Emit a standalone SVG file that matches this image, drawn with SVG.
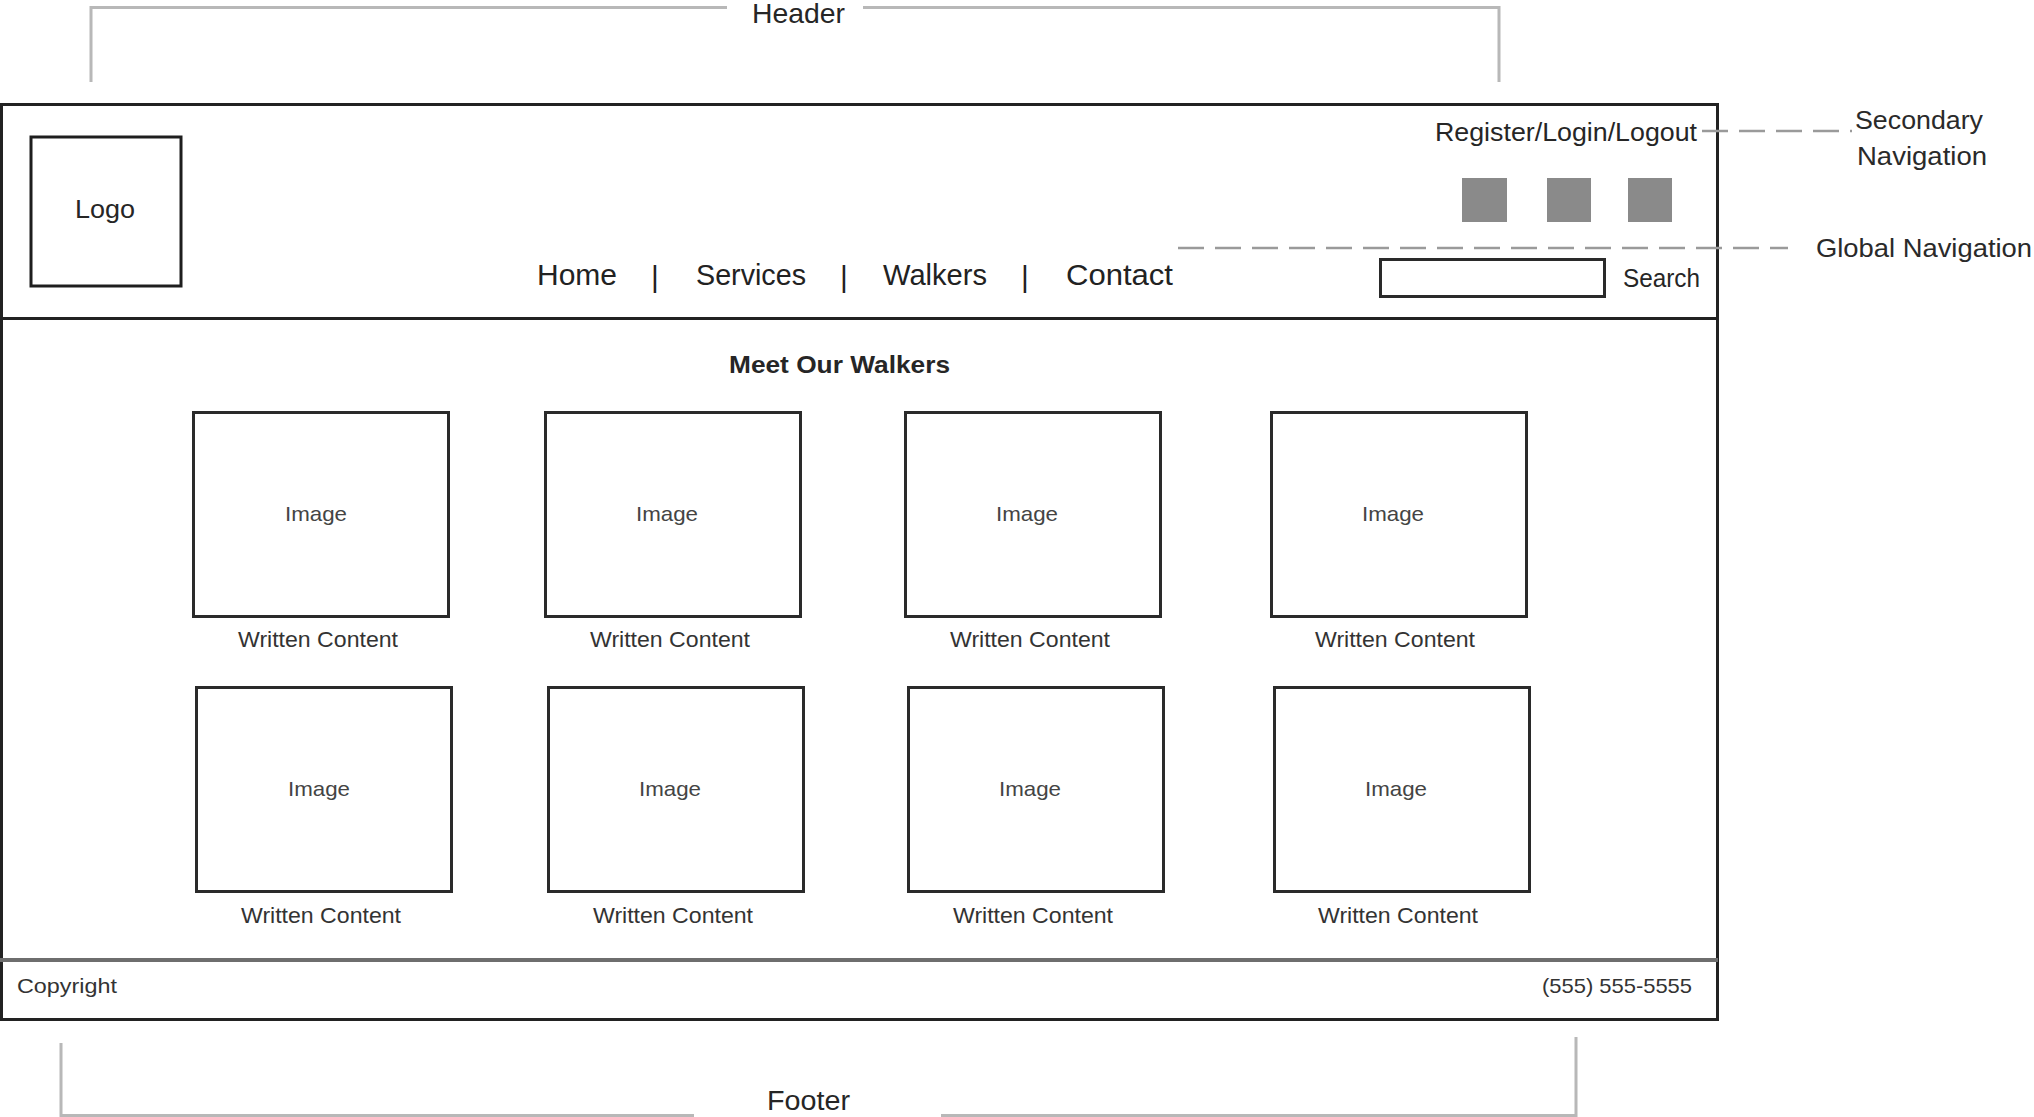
<svg xmlns="http://www.w3.org/2000/svg" width="2034" height="1117" viewBox="0 0 2034 1117">
<style>
text{font-family:"Liberation Sans",Arial,sans-serif;fill:#262626}
.br{fill:none;stroke:#b8b8b8;stroke-width:3}
.dash{fill:none;stroke:#9a9a9a;stroke-width:2.5;stroke-dasharray:26 11}
.box{fill:#fff;stroke:#2a2a2a;stroke-width:3}
.img{font-size:21px;fill:#444;text-anchor:middle}
.wc{font-size:22px;fill:#333;text-anchor:middle}
.nav{font-size:30px;fill:#222}
.lbl{font-size:26px;fill:#2a2a2a}
.sq{fill:#8a8a8a}
</style>
<rect width="2034" height="1117" fill="#fff"/>

<g id="header-annotation">
<path class="br" d="M91 82 V7.5 H727 M863 7.5 H1499 V82"/>
<text x="752" y="23" style="font-size:28px" textLength="93" lengthAdjust="spacingAndGlyphs">Header</text>
</g>

<g id="page-frame">
<rect x="1.5" y="104.5" width="1716" height="915" fill="#fff" stroke="#222" stroke-width="3"/>
<line x1="0" y1="318.5" x2="1718" y2="318.5" stroke="#222" stroke-width="3"/>
<line x1="0" y1="960" x2="1718" y2="960" stroke="#6e6e6e" stroke-width="4"/>
</g>

<g id="logo">
<rect x="31" y="137" width="150" height="149" fill="none" stroke="#1e1e1e" stroke-width="3"/>
<text x="105" y="218" style="font-size:25px" text-anchor="middle" textLength="60" lengthAdjust="spacingAndGlyphs">Logo</text>
</g>

<g id="global-nav">
<text class="nav" x="537" y="285" textLength="80" lengthAdjust="spacingAndGlyphs">Home</text>
<text class="nav" x="651" y="287">|</text>
<text class="nav" x="696" y="285" textLength="110" lengthAdjust="spacingAndGlyphs">Services</text>
<text class="nav" x="840" y="287">|</text>
<text class="nav" x="883" y="285" textLength="104" lengthAdjust="spacingAndGlyphs">Walkers</text>
<text class="nav" x="1021" y="287">|</text>
<text class="nav" x="1066" y="285" textLength="107" lengthAdjust="spacingAndGlyphs">Contact</text>
</g>

<g id="secondary-nav">
<text x="1435" y="141" style="font-size:26px" textLength="262" lengthAdjust="spacingAndGlyphs">Register/Login/Logout</text>
</g>

<g id="social-icons">
<rect class="sq" x="1462" y="178" width="45" height="44"/>
<rect class="sq" x="1547" y="178" width="44" height="44"/>
<rect class="sq" x="1628" y="178" width="44" height="44"/>
</g>

<g id="search">
<rect x="1380.5" y="259.5" width="224" height="37" fill="#fff" stroke="#2a2a2a" stroke-width="3"/>
<text x="1623" y="287" style="font-size:26px" textLength="77" lengthAdjust="spacingAndGlyphs">Search</text>
</g>

<g id="connectors">
<line class="dash" x1="1702" y1="131" x2="1852" y2="131"/>
<line class="dash" x1="1178" y1="248" x2="1788" y2="248"/>
</g>

<g id="secondary-nav-label">
<text class="lbl" x="1855" y="129" textLength="128" lengthAdjust="spacingAndGlyphs">Secondary</text>
<text class="lbl" x="1857" y="165" textLength="130" lengthAdjust="spacingAndGlyphs">Navigation</text>
</g>

<g id="global-nav-label">
<text class="lbl" x="1816" y="257" textLength="216" lengthAdjust="spacingAndGlyphs">Global Navigation</text>
</g>

<g id="content-title">
<text x="729" y="373" style="font-size:24px;font-weight:bold" textLength="221" lengthAdjust="spacingAndGlyphs">Meet Our Walkers</text>
</g>

<g id="walker-1">
<rect class="box" x="193.5" y="412.5" width="255" height="204"/>
<text class="img" x="316" y="521" textLength="62" lengthAdjust="spacingAndGlyphs">Image</text>
<text class="wc" x="318" y="647" textLength="160" lengthAdjust="spacingAndGlyphs">Written Content</text>
</g>
<g id="walker-2">
<rect class="box" x="545.5" y="412.5" width="255" height="204"/>
<text class="img" x="667" y="521" textLength="62" lengthAdjust="spacingAndGlyphs">Image</text>
<text class="wc" x="670" y="647" textLength="160" lengthAdjust="spacingAndGlyphs">Written Content</text>
</g>
<g id="walker-3">
<rect class="box" x="905.5" y="412.5" width="255" height="204"/>
<text class="img" x="1027" y="521" textLength="62" lengthAdjust="spacingAndGlyphs">Image</text>
<text class="wc" x="1030" y="647" textLength="160" lengthAdjust="spacingAndGlyphs">Written Content</text>
</g>
<g id="walker-4">
<rect class="box" x="1271.5" y="412.5" width="255" height="204"/>
<text class="img" x="1393" y="521" textLength="62" lengthAdjust="spacingAndGlyphs">Image</text>
<text class="wc" x="1395" y="647" textLength="160" lengthAdjust="spacingAndGlyphs">Written Content</text>
</g>
<g id="walker-5">
<rect class="box" x="196.5" y="687.5" width="255" height="204"/>
<text class="img" x="319" y="796" textLength="62" lengthAdjust="spacingAndGlyphs">Image</text>
<text class="wc" x="321" y="923" textLength="160" lengthAdjust="spacingAndGlyphs">Written Content</text>
</g>
<g id="walker-6">
<rect class="box" x="548.5" y="687.5" width="255" height="204"/>
<text class="img" x="670" y="796" textLength="62" lengthAdjust="spacingAndGlyphs">Image</text>
<text class="wc" x="673" y="923" textLength="160" lengthAdjust="spacingAndGlyphs">Written Content</text>
</g>
<g id="walker-7">
<rect class="box" x="908.5" y="687.5" width="255" height="204"/>
<text class="img" x="1030" y="796" textLength="62" lengthAdjust="spacingAndGlyphs">Image</text>
<text class="wc" x="1033" y="923" textLength="160" lengthAdjust="spacingAndGlyphs">Written Content</text>
</g>
<g id="walker-8">
<rect class="box" x="1274.5" y="687.5" width="255" height="204"/>
<text class="img" x="1396" y="796" textLength="62" lengthAdjust="spacingAndGlyphs">Image</text>
<text class="wc" x="1398" y="923" textLength="160" lengthAdjust="spacingAndGlyphs">Written Content</text>
</g>

<g id="footer">
<text x="17" y="993" style="font-size:21px;fill:#333" textLength="100" lengthAdjust="spacingAndGlyphs">Copyright</text>
<text x="1542" y="993" style="font-size:21px;fill:#333" textLength="150" lengthAdjust="spacingAndGlyphs">(555) 555-5555</text>
</g>

<g id="footer-annotation">
<path class="br" d="M61 1043 V1115.5 H694 M941 1115.5 H1576 V1037"/>
<text x="767" y="1110" style="font-size:27px" textLength="83" lengthAdjust="spacingAndGlyphs">Footer</text>
</g>
</svg>
